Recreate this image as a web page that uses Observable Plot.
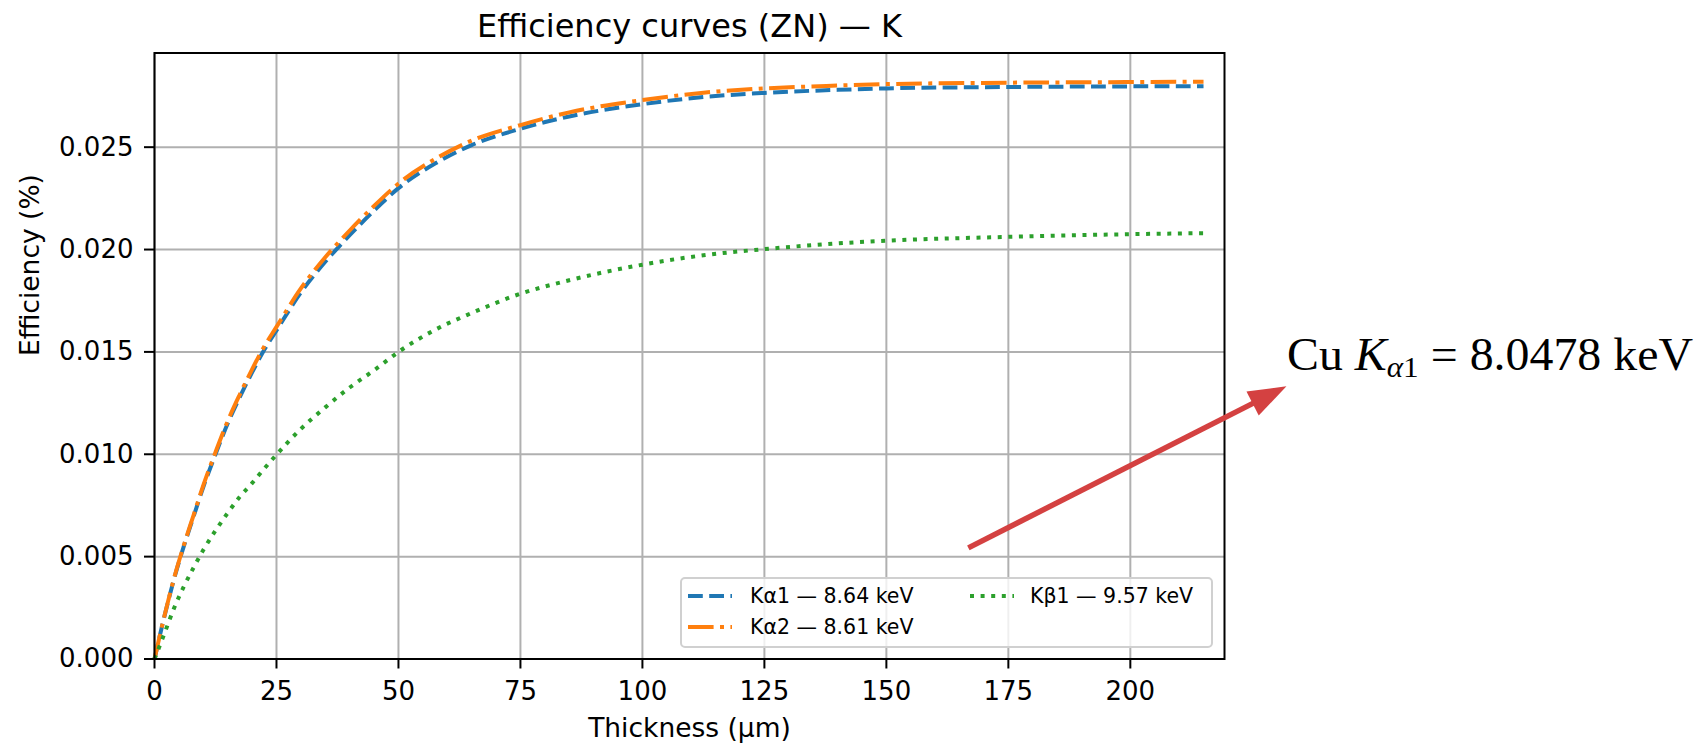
<!DOCTYPE html>
<html>
<head>
<meta charset="utf-8">
<script src="https://cdn.jsdelivr.net/npm/d3@7"></script>
<script src="https://cdn.jsdelivr.net/npm/@observablehq/plot@0.6"></script>
<style>
  html, body { margin: 0; padding: 0; background: #fff; overflow: hidden; }
  #wrap { position: relative; width: 1699px; height: 743px; font-family: "DejaVu Sans", sans-serif; }
  #legend { position: absolute; left: 680px; top: 577px; width: 533px; height: 71px; box-sizing: border-box;
            border: 2px solid #d0d0d0; border-radius: 5px; background: rgba(255,255,255,0.8); }
  .item { position: absolute; height: 30px; line-height: 30px; font-size: 20.5px; color: #000; white-space: nowrap; }
  .sw { position: absolute; }
</style>
</head>
<body>
<div id="wrap"></div>
<script>
// ---- data ----
const thickness = [0, 2, 4, 6, 8, 10, 12.5, 15, 17.5, 20, 22.5, 25, 30, 35, 40, 45, 50, 57.5, 65, 75, 85, 100, 112.5, 125, 140, 150, 175, 200, 215];
const kAlpha1 = [0, 0.00205, 0.0039, 0.0055, 0.00695, 0.0084, 0.0100, 0.0115, 0.0128, 0.0140, 0.0151, 0.01605, 0.0179, 0.0194, 0.0207, 0.0219, 0.0230, 0.0242, 0.0251, 0.0259, 0.0265, 0.0271, 0.02745, 0.02765, 0.0278, 0.02787, 0.02794, 0.02797, 0.02798];
const kAlpha2 = [0, 0.00207, 0.00394, 0.00555, 0.00702, 0.00848, 0.0101, 0.01162, 0.01293, 0.01415, 0.01527, 0.01622, 0.0181, 0.01962, 0.02093, 0.02213, 0.02322, 0.02442, 0.02532, 0.02608, 0.0267, 0.0273, 0.02766, 0.02787, 0.02801, 0.02808, 0.02815, 0.02818, 0.0282];
const kBeta1 = [0, 0.00122, 0.00248, 0.00353, 0.00446, 0.00532, 0.00627, 0.00713, 0.00793, 0.00859, 0.0093, 0.00998, 0.01124, 0.01229, 0.01326, 0.0141, 0.015, 0.01608, 0.0169, 0.01784, 0.0185, 0.01926, 0.01972, 0.02002, 0.0203, 0.02043, 0.02062, 0.02075, 0.0208];
const seriesNames = ["Kα1 — 8.64 keV", "Kα2 — 8.61 keV", "Kβ1 — 9.57 keV"];
const xTicks = [0, 25, 50, 75, 100, 125, 150, 175, 200];
const yTicks = [0, 0.005, 0.010, 0.015, 0.020, 0.025];
const titleText = ["Efficiency curves (ZN) — K"];
const xLabel = ["Thickness (µm)"];
const yLabel = ["Efficiency (%)"];
// annotation arrow (data units: thickness, efficiency)
const arrowFrom = [166.8, 0.00543];
const arrowTo = [232.0, 0.01332];

// ---- styles ----
const colors = ["#1f77b4", "#ff7f0e", "#2ca02c"];
const lw = 4;
const dashes = ["14.8,6.4", "25.6,6.4,4,6.4", "4,6.6"];
const arrowColor = "#d44141";

const seriesValues = [kAlpha1, kAlpha2, kBeta1];
const rows = seriesValues.map((vals, s) => thickness.map((t, i) => ({t, v: vals[i], s})));
const arrowData = [{x1: arrowFrom[0], y1: arrowFrom[1], x2: arrowTo[0], y2: arrowTo[1]}];

// slender filled arrow head with its tip at the origin, pointing up
const headSymbol = {
  draw(context) {
    context.moveTo(0, 0);
    context.lineTo(-13.5, 38);
    context.lineTo(13.5, 38);
    context.closePath();
  }
};

const W = 1699, H = 743;
const plot = Plot.plot({
  width: W,
  height: H,
  marginLeft: 154,
  marginRight: 475,
  marginTop: 52.5,
  marginBottom: 84.5,
  style: {background: "white", fontFamily: "DejaVu Sans", fontSize: "26px", color: "black", overflow: "visible"},
  x: {domain: [0, 219.3]},
  y: {domain: [0, 0.0296]},
  marks: [
    Plot.gridX(xTicks, {stroke: "#b0b0b0", strokeOpacity: 1, strokeWidth: 2}),
    Plot.gridY(yTicks, {stroke: "#b0b0b0", strokeOpacity: 1, strokeWidth: 2}),
    ...rows.map((r, s) => Plot.line(r, {
      x: "t", y: "v", stroke: colors[s], strokeWidth: lw, strokeDasharray: dashes[s],
      strokeLinecap: "butt", curve: "monotone-x"
    })),
    Plot.frame({stroke: "black", strokeWidth: 2}),
    Plot.axisX(xTicks, {anchor: "bottom", tickSize: 10, tickPadding: 13, fontSize: 26, strokeWidth: 2, label: null}),
    Plot.axisY(yTicks, {anchor: "left", tickSize: 10, tickPadding: 11, fontSize: 26, strokeWidth: 2, label: null, tickFormat: d3.format(".3f")}),
    Plot.text(titleText, {text: d => d, frameAnchor: "top", dy: -26.7, lineAnchor: "middle", fontSize: 32}),
    Plot.text(xLabel, {text: d => d, frameAnchor: "bottom", dy: 70, lineAnchor: "middle", fontSize: 26.5}),
    Plot.text(yLabel, {text: d => d, frameAnchor: "left", dx: -124, rotate: -90, lineAnchor: "middle", fontSize: 26.5}),
    Plot.arrow(arrowData, {x1: "x1", y1: "y1", x2: "x2", y2: "y2", stroke: arrowColor, strokeWidth: 5.5,
      headLength: 0, insetEnd: 20, strokeLinecap: "butt"}),
    Plot.dot(arrowData, {x: "x2", y: "y2", symbol: headSymbol, r: 10, fill: arrowColor, stroke: null,
      rotate: 63})
  ]
});

const wrap = document.getElementById("wrap");
wrap.appendChild(plot);

// annotation text (LaTeX-like serif)
const svg = d3.select(plot);
const t = svg.append("text")
  .attr("x", 1287).attr("y", 370)
  .attr("text-anchor", "start")
  .attr("font-family", "'Liberation Serif', 'DejaVu Serif', serif")
  .attr("font-size", 46)
  .attr("fill", "black")
  .attr("textLength", 406)
  .attr("lengthAdjust", "spacingAndGlyphs");
t.append("tspan").text("Cu ");
t.append("tspan").attr("font-style", "italic").text("K");
t.append("tspan").attr("font-style", "italic").attr("font-size", 30).attr("dy", 7).text("α");
t.append("tspan").attr("font-size", 30).text("1");
t.append("tspan").attr("dy", -7).text(" = 8.0478 keV");

// legend
const legend = document.createElement("div");
legend.id = "legend";
const pos = [
  {sx: 6, tx: 68, cy: 17},
  {sx: 6, tx: 68, cy: 48},
  {sx: 288, tx: 348, cy: 17}
];
seriesNames.forEach((name, s) => {
  const p = pos[s];
  const sw = document.createElementNS("http://www.w3.org/2000/svg", "svg");
  sw.setAttribute("class", "sw");
  sw.setAttribute("width", 44);
  sw.setAttribute("height", 10);
  sw.style.left = p.sx + "px";
  sw.style.top = (p.cy - 5) + "px";
  const ln = document.createElementNS("http://www.w3.org/2000/svg", "line");
  ln.setAttribute("x1", 0); ln.setAttribute("x2", 44);
  ln.setAttribute("y1", 5); ln.setAttribute("y2", 5);
  ln.setAttribute("stroke", colors[s]);
  ln.setAttribute("stroke-width", lw);
  ln.setAttribute("stroke-dasharray", dashes[s]);
  sw.appendChild(ln);
  legend.appendChild(sw);
  const it = document.createElement("div");
  it.className = "item";
  it.style.left = p.tx + "px";
  it.style.top = (p.cy - 15) + "px";
  it.textContent = name;
  legend.appendChild(it);
});
wrap.appendChild(legend);
</script>
</body>
</html>
